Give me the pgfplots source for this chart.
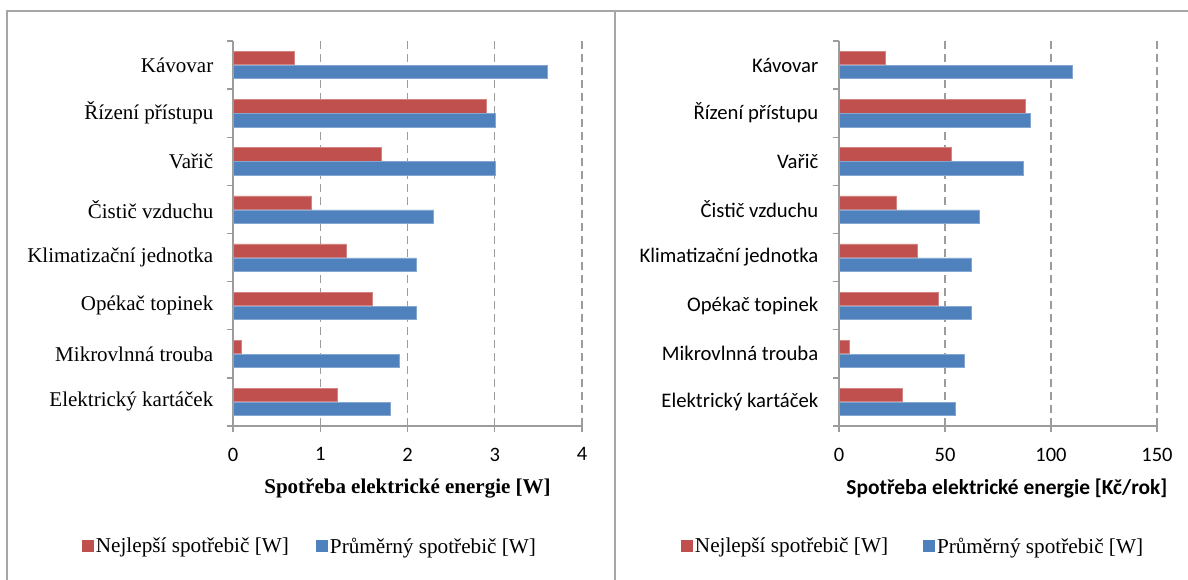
\documentclass[border=0pt]{standalone}
\usepackage{fontspec}
\setmainfont{Liberation Serif}
\newfontfamily\calibri{Carlito}
\usepackage{pgfplots}
\usepackage{pgfplotstable}
\pgfplotsset{compat=1.18}
\definecolor{barred}{HTML}{C0504D}
\definecolor{barblue}{HTML}{4F81BD}
\definecolor{axgray}{HTML}{9C9C9C}
\definecolor{framegray}{HTML}{A6A6A6}

\pgfplotstableread{
y best avg
7 0.7 3.6
6 2.9 3.0
5 1.7 3.0
4 0.9 2.3
3 1.3 2.1
2 1.6 2.1
1 0.1 1.9
0 1.2 1.8
}\tableW

\pgfplotstableread{
y best avg
7 22 110
6 88 90
5 53 87
4 27 66
3 37 62.5
2 47 62.5
1 5 59
0 30 55
}\tableK

\pgfplotsset{
  mybars/.style={
    scale only axis, height=385pt,
    xbar, bar width=13.3pt,
    ymin=-0.5, ymax=7.5,
    axis x line*=bottom, axis y line*=left,
    axis line style={draw=axgray, line width=1.3pt, -},
    tick style={draw=axgray, line width=1.3pt},
    tick align=outside, major tick length=6.5pt,
    xmajorgrids,
    major grid style={draw=axgray, line width=1.3pt, dash pattern=on 8pt off 5pt},
    ytick={-0.5,0.5,...,6.5},
    extra y ticks={7.5}, extra y tick labels={},
    yticklabel style={anchor=east, inner sep=0pt, yshift=24.06pt},
    xticklabel style={font=\calibri\fontsize{20.5}{24}\selectfont, inner sep=0pt, anchor=north, yshift=-15pt},
    /pgf/number format/assume math mode=true,
    legend columns=2,
    legend cell align=left,
    legend image code/.code={\draw[#1,draw=none] (0pt,-6pt) rectangle (12pt,6pt);},
    legend style={draw=none, fill=none, inner sep=0pt, outer sep=0pt, anchor=west,
      font=\fontsize{21.2}{25}\selectfont,
      nodes={inner sep=2pt}},
  },
  redbar/.style={fill=barred, draw=barred!70!white, line width=0.5pt, bar shift=7pt},
  bluebar/.style={fill=barblue, draw=barblue!70!white, line width=0.5pt, bar shift=-7pt},
}

\begin{document}
\begin{tikzpicture}
\useasboundingbox (0pt,0pt) rectangle (1188pt,580pt);

\begin{axis}[mybars,
  at={(233pt,154pt)}, anchor=south west,
  width=349pt,
  xmin=0, xmax=4, xtick={0,1,2,3,4},
  yticklabels={Elektrický kartáček,Mikrovlnná trouba,Opékač topinek,Klimatizační jednotka,Čistič vzduchu,Vařič,Řízení přístupu,Kávovar},
  yticklabel style={font=\fontsize{21}{25}\selectfont, xshift=-13pt},
  xlabel={Spotřeba elektrické energie [W]},
  xlabel style={font=\bfseries\fontsize{21}{25}\selectfont, at={(axis description cs:0.5,-0.163)}, anchor=center},
  legend style={at={(axis description cs:-0.433,-0.312)},
    /tikz/every even column/.append style={column sep=25pt}},
]
\addplot[redbar] table[x=best, y=y] {\tableW};
\addlegendentry{Nejlepší spotřebič [W]}
\addplot[bluebar] table[x=avg, y=y] {\tableW};
\addlegendentry{Průměrný spotřebič [W]}
\end{axis}

\begin{axis}[mybars,
  at={(839pt,154pt)}, anchor=south west,
  width=318pt,
  xmin=0, xmax=150, xtick={0,50,100,150},
  yticklabels={Elektrický kartáček,Mikrovlnná trouba,Opékač topinek,Klimatizační jednotka,Čistič vzduchu,Vařič,Řízení přístupu,Kávovar},
  yticklabel style={font=\calibri\fontsize{20.7}{24}\selectfont, xshift=-14pt},
  xlabel={Spotřeba elektrické energie [Kč/rok]},
  xlabel style={font=\calibri\bfseries\fontsize{21.4}{25}\selectfont, at={(axis description cs:0.528,-0.163)}, anchor=center},
  legend style={at={(axis description cs:-0.497,-0.312)},
    /tikz/every even column/.append style={column sep=33pt}},
]
\addplot[redbar] table[x=best, y=y] {\tableK};
\addlegendentry{Nejlepší spotřebič [W]}
\addplot[bluebar] table[x=avg, y=y] {\tableK};
\addlegendentry{Průměrný spotřebič [W]}
\end{axis}

\draw[framegray, line width=2pt] (7pt,-20pt) -- (7pt,569pt) -- (1200pt,569pt);
\draw[framegray, line width=2pt] (615pt,-20pt) -- (615pt,569pt);
\end{tikzpicture}
\end{document}
